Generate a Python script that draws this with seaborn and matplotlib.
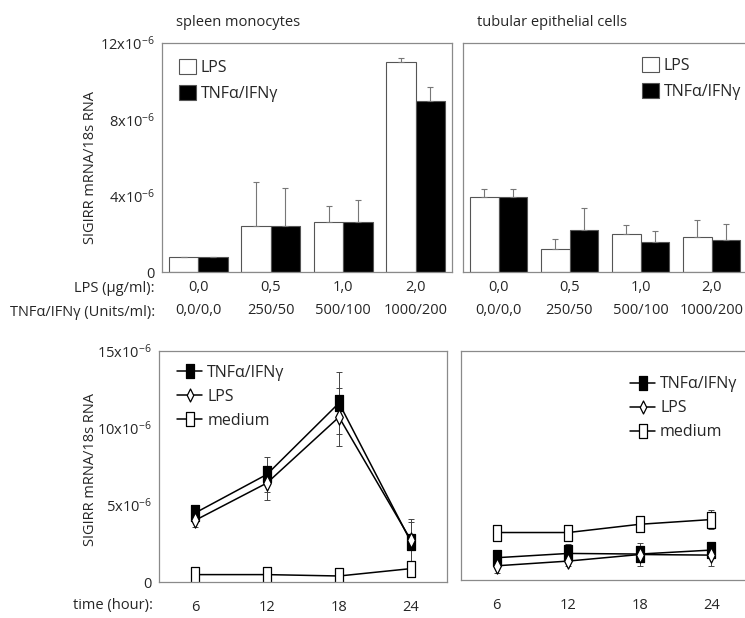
import numpy as np
import pandas as pd
import matplotlib
matplotlib.use("Agg")
import matplotlib.pyplot as plt
from matplotlib.path import Path
from matplotlib.markers import MarkerStyle
import seaborn as sns

# ---- data (values in units of 1e-6) ----
dose_lps = ["0,0", "0,5", "1,0", "2,0"]
dose_cyt = ["0,0/0,0", "250/50", "500/100", "1000/200"]
treatments = ["LPS", "TNFα/IFNγ"]

spleen_lps = [0.79, 2.43, 2.64, 11.0]
spleen_lps_err = [0.0, 2.29, 0.80, 0.19]
spleen_tnf = [0.79, 2.43, 2.64, 8.94]
spleen_tnf_err = [0.0, 1.97, 1.15, 0.75]

tubular_lps = [3.93, 1.21, 2.01, 1.82]
tubular_lps_err = [0.40, 0.52, 0.47, 0.89]
tubular_tnf = [3.93, 2.22, 1.59, 1.66]
tubular_tnf_err = [0.40, 1.15, 0.54, 0.84]

hours = [6, 12, 18, 24]
spleen_t_tnf = [4.48, 6.99, 11.62, 2.60]
spleen_t_tnf_err = [0.30, 1.13, 2.00, 1.30]
spleen_t_lps = [4.00, 6.43, 10.71, 2.71]
spleen_t_lps_err = [0.43, 1.08, 1.90, 1.40]
spleen_t_med = [0.48, 0.48, 0.39, 0.87]
spleen_t_med_err = [0.05, 0.05, 0.05, 0.10]

tubular_t_tnf = [1.46, 1.74, 1.70, 1.96]
tubular_t_tnf_err = [0.20, 0.60, 0.30, 0.45]
tubular_t_lps = [0.93, 1.24, 1.67, 1.63]
tubular_t_lps_err = [0.50, 0.30, 0.75, 0.70]
tubular_t_med = [3.11, 3.11, 3.65, 3.96]
tubular_t_med_err = [0.10, 0.10, 0.10, 0.60]

sns.set_style("white")
plt.rcParams["font.family"] = ["Open Sans", "DejaVu Sans"]
plt.rcParams["mathtext.fontset"] = "custom"
plt.rcParams["mathtext.rm"] = "Open Sans"
plt.rcParams["mathtext.default"] = "regular"
FS = 10.5
GRAY = "#8a8a8a"

W, H = 745, 618
fig = plt.figure(figsize=(W / 100, H / 100), dpi=100)


def px_axes(x0, y0, x1, y1):
    return fig.add_axes([x0 / W, 1 - y1 / H, (x1 - x0) / W, (y1 - y0) / H])


def px_text(x, y, s, **kw):
    fig.text(x / W, 1 - y / H, s, fontsize=FS, **kw)


def style_box(ax):
    for sp in ax.spines.values():
        sp.set_visible(True)
        sp.set_color(GRAY)
        sp.set_linewidth(0.9)
    ax.tick_params(axis="y", which="major", direction="out", length=3,
                   color=GRAY, width=0.8, labelsize=FS, pad=2)
    ax.tick_params(axis="x", which="major", length=0, labelsize=FS)
    ax.tick_params(axis="x", which="minor", direction="out", length=3,
                   color=GRAY, width=0.8)
    ax.set_xticks([0.5, 1.5, 2.5], minor=True)
    ax.set_xlabel("")
    ax.set_ylabel("")


def sci_label(v):
    return "0" if v == 0 else f"{v}x10$^{{-6}}$"


# ---------------- bar panels ----------------
def bar_panel(ax, lps, lps_err, tnf, tnf_err, show_y, legend_anchor):
    df = pd.DataFrame({
        "dose": dose_lps * 2,
        "treatment": [treatments[0]] * 4 + [treatments[1]] * 4,
        "value": lps + tnf,
    })
    sns.barplot(data=df, x="dose", y="value", hue="treatment",
                palette=["white", "black"], width=0.81, gap=0,
                edgecolor="#555555", linewidth=0.8, errorbar=None, ax=ax)
    for cont, err in zip(ax.containers, [lps_err, tnf_err]):
        xs = [p.get_x() + p.get_width() / 2 for p in cont.patches]
        ys = [p.get_height() for p in cont.patches]
        ax.errorbar(xs, ys, yerr=[np.zeros(len(err)), err], fmt="none",
                    ecolor="#777777", elinewidth=0.8, capsize=2.2,
                    capthick=0.8, zorder=1)
    ax.set_xlim(-0.5, 3.5)
    ax.set_ylim(0, 12)
    yt = [0, 4, 8, 12]
    ax.set_yticks(yt)
    ax.set_yticklabels([sci_label(v) for v in yt] if show_y else [])
    ax.set_xticks(range(4))
    ax.set_xticklabels([f"{a}\n{b}" for a, b in zip(dose_lps, dose_cyt)])
    style_box(ax)
    ax.tick_params(axis="x", which="major", pad=6)
    for lbl in ax.get_xticklabels():
        lbl.set_linespacing(1.7)
    h, l = ax.get_legend_handles_labels()
    ax.legend(h, l, loc="upper left", bbox_to_anchor=legend_anchor,
              frameon=False, fontsize=FS + 1, handlelength=1.05,
              handleheight=1.1, handletextpad=0.3, labelspacing=0.55,
              borderpad=0, borderaxespad=0)


ax1 = px_axes(162, 43, 452, 272)
bar_panel(ax1, spleen_lps, spleen_lps_err, spleen_tnf, spleen_tnf_err,
          True, (0.058, 0.93))
ax2 = px_axes(463, 43, 747, 272)
bar_panel(ax2, tubular_lps, tubular_lps_err, tubular_tnf, tubular_tnf_err,
          False, (0.63, 0.94))

# ---------------- time-course panels ----------------
rect = MarkerStyle(Path([(-1, -2), (1, -2), (1, 2), (-1, 2), (-1, -2)],
                        closed=True))
diamond = MarkerStyle(Path([(0, -2), (1, 0), (0, 2), (-1, 0), (0, -2)],
                           closed=True))

series_style = [
    ("TNFα/IFNγ", rect, "black", 12),
    ("LPS", diamond, "white", 11),
    ("medium", rect, "white", 12),
]


def time_panel(ax, series, errs, show_y, legend_anchor):
    handles = []
    for (name, mk, face, ms), vals, err in zip(series_style, series, errs):
        df = pd.DataFrame({"time": hours, "value": vals})
        sns.pointplot(data=df, x="time", y="value", color="black",
                      marker=mk, markersize=ms, markerfacecolor=face,
                      markeredgecolor="black", markeredgewidth=0.9,
                      linewidth=1.1, errorbar=None, ax=ax)
        line = ax.lines[-1]
        line.set_label(name)
        handles.append(line)
        ax.errorbar(line.get_xdata(), line.get_ydata(), yerr=err, fmt="none",
                    ecolor="#444444", elinewidth=0.7, capsize=2.2,
                    capthick=0.7, zorder=1)
    ax.set_xlim(-0.5, 3.5)
    ax.set_ylim(0, 15)
    yt = [0, 5, 10, 15]
    ax.set_yticks(yt)
    ax.set_yticklabels([sci_label(v) for v in yt] if show_y else [])
    ax.set_xticks(range(4))
    ax.set_xticklabels([str(h) for h in hours])
    style_box(ax)
    ax.tick_params(axis="x", which="major", pad=13)
    ax.legend(handles=handles, loc="upper left", bbox_to_anchor=legend_anchor,
              frameon=False, fontsize=FS + 1, handlelength=1.6,
              handletextpad=0.3, labelspacing=0.5, markerscale=0.85,
              borderpad=0, borderaxespad=0)


ax3 = px_axes(159, 351, 447, 582)
time_panel(ax3, [spleen_t_tnf, spleen_t_lps, spleen_t_med],
           [spleen_t_tnf_err, spleen_t_lps_err, spleen_t_med_err],
           True, (0.062, 0.94))
ax4 = px_axes(461, 351, 747, 580)
time_panel(ax4, [tubular_t_tnf, tubular_t_lps, tubular_t_med],
           [tubular_t_tnf_err, tubular_t_lps_err, tubular_t_med_err],
           False, (0.59, 0.89))

# ---------------- titles and row labels ----------------
px_text(176, 22, "spleen monocytes", ha="left", va="center")
px_text(477, 22, "tubular epithelial cells", ha="left", va="center")
px_text(90, 167, "SIGIRR mRNA/18s RNA", rotation=90, ha="center", va="center")
px_text(90, 470, "SIGIRR mRNA/18s RNA", rotation=90, ha="center", va="center")
px_text(155, 289, "LPS (µg/ml):", ha="right", va="center")
px_text(155, 313, "TNFα/IFNγ (Units/ml):", ha="right", va="center")
px_text(153, 606, "time (hour):", ha="right", va="center")

fig.savefig("out.png", dpi=100, facecolor="white")
